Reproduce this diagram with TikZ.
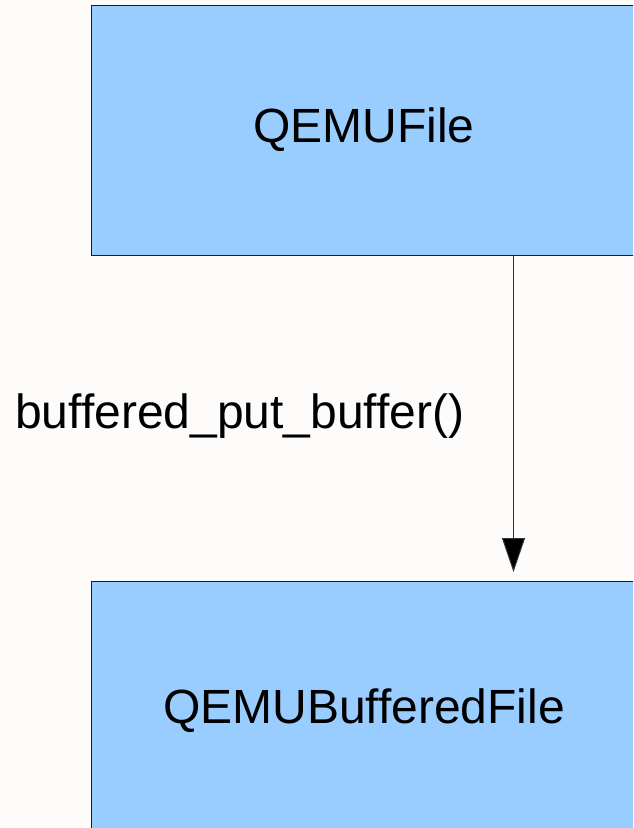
\documentclass[tikz,border=0pt]{standalone}
\usepackage{fontspec}
\setmainfont{Liberation Sans}
\usetikzlibrary{arrows.meta}
\definecolor{boxfill}{HTML}{99CCFF}
\definecolor{boxline}{HTML}{1A1A2A}
\definecolor{bg}{HTML}{FDFCFA}
\begin{document}
\begin{tikzpicture}[x=1pt,y=-1pt,
  classbox/.style={draw=boxline,line width=1pt,fill=boxfill,rectangle,
    minimum width=546pt,minimum height=250pt,inner sep=0pt,
    font=\fontsize{48}{58}\selectfont},
  callarrow/.style={draw=black!80,line width=1pt,
    -{Triangle[length=34pt,width=23pt,fill=black]}},
  calllabel/.style={font=\fontsize{48}{58}\selectfont,inner sep=0pt}]
\useasboundingbox (0,0) rectangle (633,828);
\clip (0,0) rectangle (633,828);
\fill[bg] (0,0) rectangle (633,828);
\node[classbox] (qf) at (364,130) {QEMUFile};
\node[classbox,minimum height=260pt] (qbf) at (364,711) {QEMUBufferedFile};
\coordinate (tip) at (513.5,572);
\draw[callarrow] (qf.south -| tip) -- (tip);
\node[calllabel,anchor=base west] (lbl) at (15,428) {buffered\_put\_buffer()};
\end{tikzpicture}
\end{document}
